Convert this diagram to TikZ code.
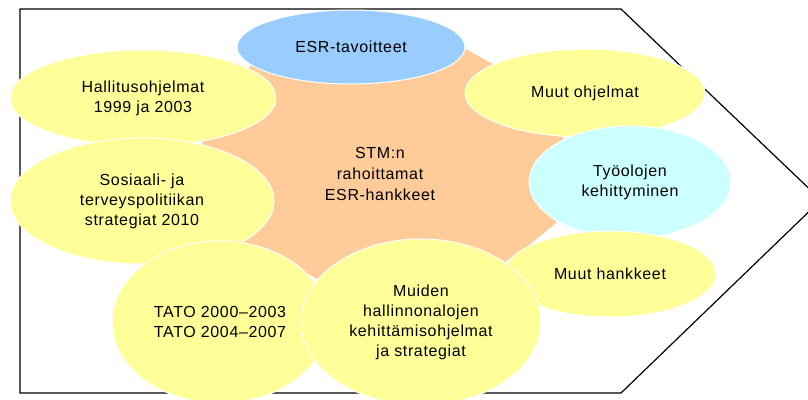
\documentclass[tikz,border=0pt]{standalone}
\usepackage{fontspec}
\usepackage{tikz}
\usetikzlibrary{shapes.geometric}
\newfontfamily\diafont[LetterSpace=4]{Liberation Sans}
\definecolor{esrblue}{HTML}{99CCFF}
\definecolor{paleyellow}{HTML}{FFFF99}
\definecolor{palecyan}{HTML}{CCFFFF}
\definecolor{stmorange}{HTML}{FFCC99}

\begin{document}
\begin{tikzpicture}[x=0.75pt,y=-0.75pt,
    blob/.style={ellipse,draw=white,line width=0.75pt,inner sep=0pt,
      align=center,font=\diafont\fontsize{12}{15}\selectfont},
    yellowblob/.style={blob,fill=paleyellow}]
    \useasboundingbox (0,0) rectangle (808,400);
    \clip (0,0) rectangle (808,400);

    % outer arrow frame
    \draw[line width=0.9pt] (20,9) -- (621,9) -- (821,200) -- (621,393)
    -- (20,393) -- cycle;

    % orange centre
    \fill[stmorange] (250,66) -- (460,46) -- (540,90) -- (563,138)
    -- (556,223) -- (527,247) -- (505,262) -- (318,279) -- (244,243)
    -- (201,145) -- cycle;
    \path (380,174) node[align=center,font=\diafont\fontsize{12}{15.5}\selectfont]
      (stm) {STM:n\\rahoittamat\\ESR-hankkeet};

    \path
    (143,98) node[yellowblob,minimum width=199.5pt,minimum height=72pt] (hall)
      {Hallitusohjelmat\\1999 ja 2003}
    (351,47) node[blob,fill=esrblue,minimum width=171pt,minimum height=55.5pt] (esr)
      {ESR-tavoitteet}
    (142,201) node[yellowblob,minimum width=198pt,minimum height=94.5pt] (sos)
      {Sosiaali- ja\\terveyspolitiikan\\strategiat 2010}
    (585,93) node[yellowblob,minimum width=180pt,minimum height=66pt] (muoh)
      {Muut ohjelmat}
    (630,182) node[blob,fill=palecyan,minimum width=151.5pt,minimum height=84pt] (tyo)
      {Työolojen\\kehittyminen}
    (610,274) node[yellowblob,minimum width=159pt,minimum height=64.5pt] (muha)
      {Muut hankkeet}
    (220,322) node[yellowblob,minimum width=162pt,minimum height=121.5pt] (tato)
      {TATO 2000\textendash 2003\\TATO 2004\textendash 2007}
    (421,322) node[yellowblob,minimum width=180pt,minimum height=124.5pt] (muid)
      {Muiden\\hallinnonalojen\\kehittämisohjelmat\\ja strategiat}
    ;
  \end{tikzpicture}
\end{document}
